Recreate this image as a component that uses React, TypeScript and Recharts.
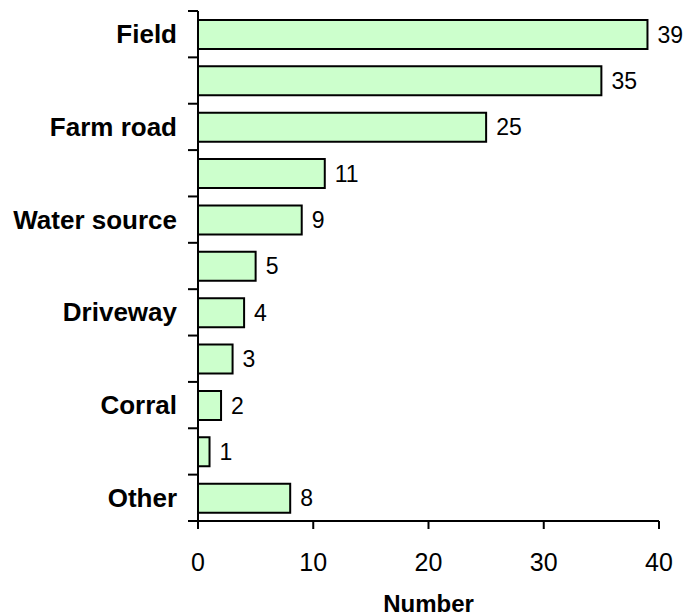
import React from "react";
import { BarChart, Bar, XAxis, YAxis, LabelList, Label } from "recharts";

// Only every other row carries a label in the source chart
const categories = ["Field", "", "Farm road", "", "Water source", "", "Driveway", "", "Corral", "", "Other"];
const counts = [39, 35, 25, 11, 9, 5, 4, 3, 2, 1, 8];
const xTicks = [0, 10, 20, 30, 40];

const data = categories.map((name, i) => ({ name, value: counts[i] }));

const FONT = "'Liberation Sans', Arial, Helvetica, sans-serif";

function CategoryTick(props: any) {
  const { x, y, payload, index } = props;
  const half = payload && typeof payload.offset === "number" && payload.offset > 0 ? payload.offset : 23.2;
  return (
    <g>
      {index === 0 && <line x1={x - 10} y1={y - half} x2={x} y2={y - half} stroke="#000" strokeWidth={2} />}
      <line x1={x - 10} y1={y + half} x2={x} y2={y + half} stroke="#000" strokeWidth={2} />
      <text
        x={x - 21}
        y={y}
        textAnchor="end"
        dominantBaseline="central"
        fontFamily={FONT}
        fontWeight="bold"
        fontSize={26}
        fill="#000"
      >
        {payload.value}
      </text>
    </g>
  );
}

export default function App() {
  return (
    <div style={{ position: "absolute", left: 0, top: 0, width: 688, height: 616, background: "#fff" }}>
      <BarChart
        width={688}
        height={616}
        data={data}
        layout="vertical"
        margin={{ top: 11, right: 29, left: 0, bottom: 0 }}
      >
        <XAxis
          type="number"
          domain={[0, 40]}
          ticks={xTicks}
          height={95}
          stroke="#000"
          strokeWidth={2}
          tickSize={8}
          tickMargin={24}
          tick={{ fill: "#000", fontSize: 25, fontFamily: FONT }}
        >
          <Label
            value="Number"
            position="insideBottom"
            offset={4}
            style={{ fill: "#000", fontSize: 24, fontWeight: "bold", fontFamily: FONT }}
          />
        </XAxis>
        <YAxis
          type="category"
          dataKey="name"
          width={198}
          interval={0}
          tickLine={false}
          tickSize={0}
          tickMargin={0}
          stroke="#000"
          strokeWidth={2}
          tick={<CategoryTick />}
        />
        <Bar dataKey="value" fill="#CCFFCC" stroke="#000" strokeWidth={2} barSize={29} isAnimationActive={false}>
          <LabelList
            dataKey="value"
            position="right"
            offset={10}
            style={{ fill: "#000", fontSize: 23, fontFamily: FONT }}
          />
        </Bar>
      </BarChart>
    </div>
  );
}
